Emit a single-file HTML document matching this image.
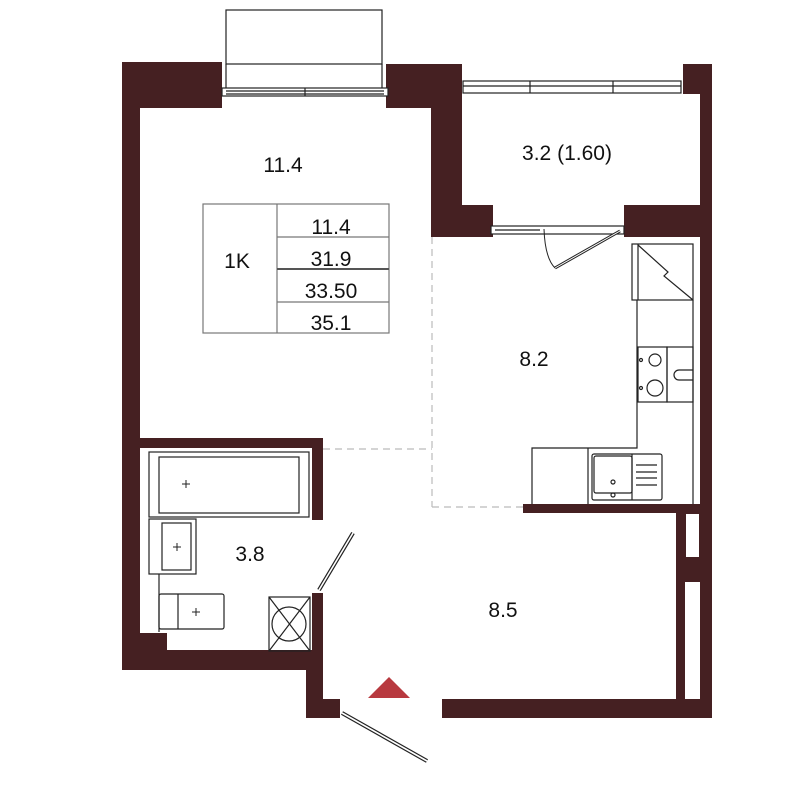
<!DOCTYPE html>
<html><head><meta charset="utf-8"><style>
html,body{margin:0;padding:0;background:#fff}
svg{display:block}
text{font-family:"Liberation Sans",sans-serif;fill:#111}
</style></head><body>
<svg width="800" height="800" viewBox="0 0 800 800" xmlns="http://www.w3.org/2000/svg">
<g fill="#452022">
<!-- top left -->
<rect x="122" y="62" width="100" height="46"/>
<rect x="122" y="62" width="18" height="608"/>
<rect x="386" y="64" width="76" height="44"/>
<rect x="431" y="64" width="31" height="173"/>
<rect x="431" y="205" width="62" height="32"/>
<rect x="624" y="205" width="76" height="32"/>
<rect x="683" y="64" width="28" height="30"/>
<rect x="700" y="64" width="12" height="654"/>
<!-- bathroom walls -->
<rect x="140" y="438" width="183" height="10"/>
<rect x="312" y="438" width="11" height="82"/>
<rect x="140" y="633" width="27" height="20"/>
<rect x="122" y="650" width="201" height="20"/>
<rect x="312" y="593" width="11" height="60"/>
<rect x="306" y="650" width="17" height="68"/>
<rect x="306" y="699" width="34" height="19"/>
<!-- bottom right -->
<rect x="442" y="699" width="270" height="19"/>
<rect x="676" y="513" width="36" height="186"/>
<rect x="523" y="504" width="177" height="9"/>
</g>
<!-- right slots -->
<rect x="685" y="513" width="15" height="45" fill="#fff"/>
<rect x="685" y="582" width="15" height="117" fill="#fff"/>
<rect x="685.5" y="513.5" width="14" height="44" fill="none" stroke="#452022" stroke-width="1"/>

<g fill="none" stroke="#222" stroke-width="1.2">
<!-- balcony box top -->
<rect x="226" y="10" width="156" height="54"/>
<line x1="226" y1="64" x2="226" y2="88"/><line x1="382" y1="64" x2="382" y2="88"/>
<rect x="222" y="88" width="166" height="8" fill="#fff"/>
<line x1="226" y1="91" x2="384" y2="91"/><line x1="226" y1="94" x2="384" y2="94"/>
<line x1="305" y1="88" x2="305" y2="96"/>
<!-- balcony window -->
<rect x="463" y="81" width="218" height="12" fill="#fff"/>
<line x1="463" y1="86" x2="681" y2="86"/>
<line x1="530" y1="81" x2="530" y2="93"/><line x1="613" y1="81" x2="613" y2="93"/>
<!-- lower window -->
<rect x="491" y="226" width="133" height="8" fill="#fff"/>
<line x1="495" y1="230" x2="540" y2="230"/>
<!-- kitchen door -->
<line x1="620" y1="231" x2="555" y2="268" stroke-width="3"/>
<line x1="620" y1="231" x2="555" y2="268" stroke="#fff" stroke-width="1"/>
<path d="M544 229 Q545 258 555 268" stroke-width="1"/>
<!-- fridge -->
<rect x="632" y="244" width="61" height="56"/>
<line x1="638" y1="244" x2="638" y2="300"/>
<path d="M638 245 L668 272 L664 276 L693 300"/>
<!-- counter -->
<polyline points="637,300 637,448 532,448 532,504"/>
<line x1="693" y1="300" x2="693" y2="504"/>
<rect x="638" y="347" width="29" height="55"/>
<rect x="667" y="347" width="26" height="55"/>
<circle cx="655" cy="360" r="6"/><circle cx="655" cy="388" r="8"/>
<circle cx="641" cy="360" r="1.5"/><circle cx="641" cy="388" r="1.5"/>
<path d="M693 370 L679 370 A5 5 0 0 0 679 380 L693 380"/>
<line x1="588" y1="448" x2="588" y2="504"/>
<rect x="592" y="454" width="70" height="46" rx="2"/>
<rect x="594" y="456" width="38" height="37" rx="2"/>
<line x1="632" y1="454" x2="632" y2="500"/>
<circle cx="613" cy="482" r="2"/><circle cx="613" cy="495" r="2"/>
<line x1="636" y1="465" x2="657" y2="465"/><line x1="636" y1="472" x2="657" y2="472"/>
<line x1="636" y1="478" x2="657" y2="478"/><line x1="636" y1="485" x2="657" y2="485"/>
<!-- bathroom -->
<rect x="149" y="452" width="160" height="65"/>
<rect x="159" y="457" width="140" height="56"/>
<rect x="149" y="519" width="47" height="55"/>
<rect x="162" y="523" width="29" height="47"/>
<line x1="159" y1="574" x2="159" y2="632"/>
<rect x="159" y="594" width="65" height="35" rx="2"/>
<line x1="178" y1="594" x2="178" y2="629"/>
<rect x="269" y="597" width="41" height="54"/>
<circle cx="289" cy="624" r="17"/>
<line x1="269" y1="597" x2="310" y2="651"/><line x1="310" y1="597" x2="269" y2="651"/>
<!-- bathroom door -->
<line x1="319" y1="590" x2="353" y2="533" stroke-width="4"/>
<line x1="319" y1="590" x2="353" y2="533" stroke="#fff" stroke-width="1.6"/>
<!-- entry door -->
<line x1="342" y1="713" x2="427" y2="761" stroke-width="4"/>
<line x1="342" y1="713" x2="427" y2="761" stroke="#fff" stroke-width="1.6"/>
<!-- table -->
<rect x="203" y="204" width="186" height="129" stroke="#777"/>
<line x1="277" y1="204" x2="277" y2="333" stroke="#777"/>
<line x1="277" y1="237" x2="389" y2="237" stroke="#777"/>
<line x1="277" y1="269" x2="389" y2="269" stroke="#555" stroke-width="2"/>
<line x1="277" y1="302" x2="389" y2="302" stroke="#777"/>
</g>
<!-- plus marks -->
<g stroke="#222" stroke-width="1">
<line x1="182" y1="484" x2="190" y2="484"/><line x1="186" y1="480" x2="186" y2="488"/>
<line x1="173" y1="547" x2="181" y2="547"/><line x1="177" y1="543" x2="177" y2="551"/>
<line x1="192" y1="612" x2="200" y2="612"/><line x1="196" y1="608" x2="196" y2="616"/>
</g>
<!-- dashed -->
<g stroke="#bbb" stroke-width="1.2" stroke-dasharray="7,5" fill="none">
<line x1="432" y1="237" x2="432" y2="507"/>
<line x1="432" y1="507" x2="523" y2="507"/>
<line x1="323" y1="449" x2="432" y2="449"/>
</g>
<polygon points="368,698 410,698 389,677" fill="#b8393f"/>
<g font-size="21" text-anchor="middle">
<text x="283" y="172">11.4</text>
<text x="567" y="160">3.2 (1.60)</text>
<text x="534" y="366">8.2</text>
<text x="250" y="561">3.8</text>
<text x="503" y="617">8.5</text>
<text x="237" y="268">1K</text>
<text x="331" y="234">11.4</text>
<text x="331" y="266">31.9</text>
<text x="331" y="298">33.50</text>
<text x="331" y="330">35.1</text>
</g>
</svg>
</body></html>
